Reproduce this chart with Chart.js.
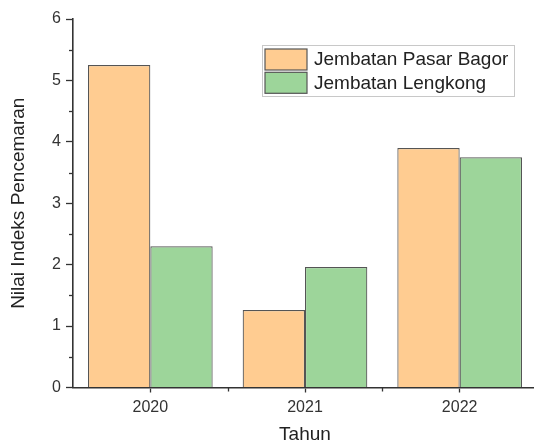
<!DOCTYPE html>
<html>
<head>
<meta charset="utf-8">
<script src="https://cdn.jsdelivr.net/npm/chart.js@4"></script>
<style>
html,body{margin:0;padding:0;background:#fff;overflow:hidden;width:534px;height:444px;}
#c{display:block;}
</style>
</head>
<body>
<canvas id="c" width="537" height="444"></canvas>
<script>
const categories = ['2020', '2021', '2022'];
const seriesNames = ['Jembatan Pasar Bagor', 'Jembatan Lengkong'];
const pasarBagor = [5.25, 1.26, 3.9];
const lengkong = [2.3, 1.96, 3.75];
const yTicks = [0, 1, 2, 3, 4, 5, 6];
const xTitle = 'Tahun';
const yTitle = 'Nilai Indeks Pencemaran';

const FONT = "'Liberation Sans', Arial, sans-serif";
const AXIS = '#333';

const minorTicks = {
  id: 'minorTicks',
  afterDraw(chart) {
    const ctx = chart.ctx, x = chart.scales.x, y = chart.scales.y;
    const a = chart.chartArea;
    ctx.save();
    ctx.strokeStyle = AXIS;
    ctx.lineWidth = 1.3;
    for (let i = 0; i < yTicks.length - 1; i++) {
      const py = Math.round(y.getPixelForValue((yTicks[i] + yTicks[i + 1]) / 2)) + 0.5;
      ctx.beginPath(); ctx.moveTo(a.left - 4, py); ctx.lineTo(a.left, py); ctx.stroke();
    }
    for (let i = 0; i < categories.length - 1; i++) {
      const px = Math.round((x.getPixelForTick(i) + x.getPixelForTick(i + 1)) / 2) + 0.5;
      ctx.beginPath(); ctx.moveTo(px, a.bottom); ctx.lineTo(px, a.bottom + 4); ctx.stroke();
    }
    ctx.restore();
  }
};

const insideLegend = {
  id: 'insideLegend',
  afterDraw(chart) {
    const ctx = chart.ctx;
    const bx = 262, by = 45, bw = 252, bh = 51;
    ctx.save();
    ctx.strokeStyle = '#c8c8c8';
    ctx.lineWidth = 1;
    ctx.strokeRect(bx + 0.5, by + 0.5, bw, bh);
    ctx.font = '19px ' + FONT;
    ctx.textBaseline = 'middle';
    ctx.textAlign = 'left';
    chart.data.datasets.forEach((ds, i) => {
      const sy = 49 + i * 23.3;
      ctx.fillStyle = ds.backgroundColor;
      ctx.fillRect(265, sy, 42, 21);
      ctx.strokeStyle = '#555';
      ctx.lineWidth = 1.2;
      ctx.strokeRect(265, sy, 42, 21);
      ctx.fillStyle = '#222';
      ctx.fillText(ds.label, 314, sy + 11);
    });
    ctx.restore();
  }
};

new Chart(document.getElementById('c'), {
  type: 'bar',
  data: {
    labels: categories,
    datasets: [
      { label: seriesNames[0], data: pasarBagor, backgroundColor: '#FFCC91', borderColor: '#555', borderWidth: 1.2, borderSkipped: 'start' },
      { label: seriesNames[1], data: lengkong, backgroundColor: '#9DD59A', borderColor: '#555', borderWidth: 1.2, borderSkipped: 'start' }
    ]
  },
  options: {
    responsive: false,
    devicePixelRatio: 1,
    animation: false,
    layout: { padding: { left: 0, top: 19, right: 0, bottom: 0 } },
    datasets: { bar: { categoryPercentage: 0.806, barPercentage: 1 } },
    plugins: { legend: { display: false }, tooltip: { enabled: false } },
    scales: {
      x: {
        offset: true,
        grid: { display: true, drawOnChartArea: false, drawTicks: true, tickLength: 5, offset: false, color: AXIS, tickColor: AXIS, tickWidth: 1.3 },
        border: { display: true, color: AXIS, width: 1.6 },
        ticks: { color: '#333', font: { family: FONT, size: 16 }, padding: 5 },
        title: { display: true, text: xTitle, color: '#222', font: { family: FONT, size: 19, lineHeight: 1 }, padding: { top: 0, bottom: 0 } },
        afterFit(s) { s.height = 56.5; }
      },
      y: {
        min: yTicks[0], max: yTicks[yTicks.length - 1],
        afterBuildTicks(s) { s.ticks = yTicks.map(v => ({ value: v })); },
        grid: { display: true, drawOnChartArea: false, drawTicks: true, tickLength: 7, color: AXIS, tickColor: AXIS, tickWidth: 1.3 },
        border: { display: true, color: AXIS, width: 1.6 },
        ticks: { color: '#333', font: { family: FONT, size: 16 }, padding: 5 },
        title: { display: true, text: yTitle, color: '#222', font: { family: FONT, size: 19, lineHeight: 1 }, padding: { top: 9.5, bottom: 0 } },
        afterFit(s) { s.width = 73; }
      }
    }
  },
  plugins: [minorTicks, insideLegend]
});
</script>
</body>
</html>
